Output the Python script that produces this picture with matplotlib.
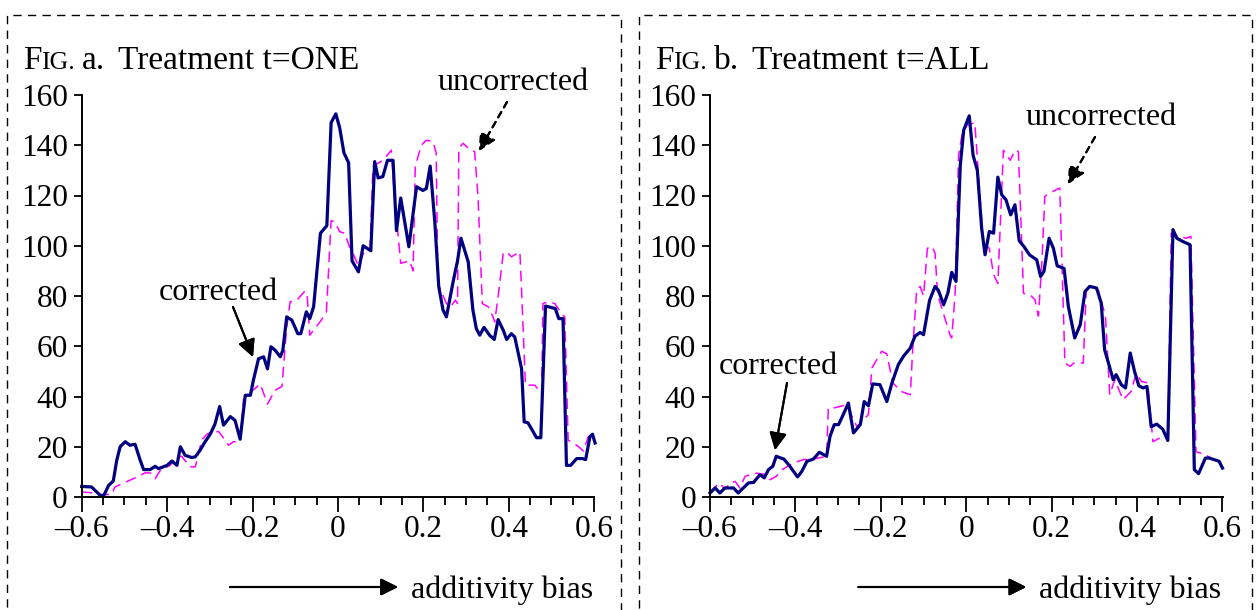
import numpy as np
import matplotlib
matplotlib.use('Agg')
import matplotlib.pyplot as plt
from matplotlib.patches import Rectangle

plt.rcParams.update({
    'font.family': ['Liberation Serif', 'DejaVu Serif'],
    'font.size': 22.5,
    'axes.linewidth': 1.4,
})

W, H = 1256, 610

# ---- data ----
# Fig. a, treatment t=ONE
a_corr_x = [-0.600, -0.577, -0.557, -0.549, -0.537, -0.526, -0.518, -0.510, -0.498, -0.487,
            -0.475, -0.463, -0.455, -0.440, -0.428, -0.420, -0.400, -0.389, -0.377, -0.369,
            -0.358, -0.342, -0.334, -0.323, -0.311, -0.299, -0.288, -0.277, -0.268, -0.252,
            -0.241, -0.229, -0.217, -0.205, -0.198, -0.186, -0.174, -0.165, -0.157, -0.147,
            -0.135, -0.129, -0.120, -0.108, -0.094, -0.087, -0.074, -0.066, -0.057, -0.041,
            -0.026, -0.016, -0.005, 0.004, 0.014, 0.025, 0.033, 0.048, 0.059, 0.077,
            0.086, 0.094, 0.105, 0.116, 0.129, 0.137, 0.147, 0.166, 0.184, 0.199,
            0.207, 0.216, 0.227, 0.236, 0.246, 0.254, 0.270, 0.280, 0.288, 0.305,
            0.316, 0.324, 0.332, 0.342, 0.355, 0.366, 0.375, 0.387, 0.395, 0.406,
            0.414, 0.430, 0.436, 0.445, 0.455, 0.465, 0.475, 0.486, 0.500, 0.509,
            0.517, 0.527, 0.535, 0.545, 0.559, 0.572, 0.580, 0.590, 0.596, 0.602]
a_corr_y = [4.2, 4, 0.7, 0.3, 4.6, 6.4, 14.6, 20, 22, 20.6,
            21, 14.6, 10.9, 10.9, 12.2, 11.3, 12.6, 14.3, 12.6, 20,
            16.6, 15.7, 16, 18.6, 22, 25, 29, 36, 28.6, 32,
            30.5, 23, 40.5, 40.5, 46.5, 55, 55.8, 51, 59.8, 58.4,
            55.8, 58.4, 71.7, 70.4, 65, 65, 73.7, 71, 75.7, 105,
            108, 149, 152.5, 147, 137, 133, 94, 89.6, 100, 98,
            133.5, 127, 127.5, 134, 134, 106, 119, 99.6, 123.5, 122,
            122.8, 131.7, 109, 83.7, 74.4, 71.7, 86, 94, 103, 93.6,
            74.4, 67, 64.4, 67.5, 64.4, 62.7, 70.6, 66.4, 62.7, 65,
            63.7, 51, 29.9, 29.5, 26.6, 23.6, 23.6, 76, 75.4, 75,
            71, 71, 12.6, 12.6, 15.3, 15.3, 14.9, 24, 25, 21.5]

a_unc_x = [-0.600, -0.577, -0.561, -0.530, -0.522, -0.470, -0.452, -0.440, -0.428, -0.416,
           -0.393, -0.377, -0.366, -0.346, -0.334, -0.319, -0.307, -0.295, -0.279, -0.256,
           -0.245, -0.229, -0.221, -0.209, -0.182, -0.165, -0.147, -0.131, -0.121, -0.112,
           -0.096, -0.077, -0.072, -0.066, -0.039, -0.027, -0.016, -0.008, 0.004, 0.016,
           0.027, 0.035, 0.048, 0.060, 0.075, 0.082, 0.105, 0.125, 0.133, 0.142,
           0.147, 0.168, 0.176, 0.181, 0.195, 0.207, 0.223, 0.230, 0.234, 0.254,
           0.264, 0.275, 0.280, 0.283, 0.293, 0.305, 0.320, 0.328, 0.338, 0.352,
           0.363, 0.367, 0.375, 0.387, 0.395, 0.406, 0.426, 0.430, 0.439, 0.461,
           0.477, 0.480, 0.492, 0.508, 0.523, 0.531, 0.539, 0.559, 0.575, 0.586,
           0.596, 0.602]
a_unc_y = [2, 1.7, 1, 1, 4, 8, 9.6, 9.6, 7.3, 10.6,
           12.6, 16, 16.2, 12, 12, 22.6, 25, 26, 26, 20.6,
           22, 22, 39, 41, 45, 37, 42.5, 44, 66, 77.7,
           78.4, 82, 80, 64.4, 70.4, 73.7, 110, 109.6, 105.6, 105,
           99.6, 97, 92, 97, 98, 131.5, 134, 138, 118, 102,
           93, 94, 90, 131.5, 140, 142, 141.4, 136.8, 85, 77,
           75.7, 78.4, 77, 138.8, 140.8, 138.8, 137.5, 119.5, 77, 75.7,
           71.7, 69.7, 79.7, 97, 97.6, 95.6, 97.6, 82, 44.5, 44.5,
           41, 77, 77.7, 77, 73, 71.7, 22.6, 20.6, 18.3, 24,
           24.6, 22]

# Fig. b, treatment t=ALL
b_corr_x = [-0.600, -0.588, -0.577, -0.565, -0.545, -0.534, -0.522, -0.510, -0.498, -0.483,
            -0.473, -0.463, -0.453, -0.445, -0.434, -0.427, -0.413, -0.395, -0.385, -0.373,
            -0.358, -0.344, -0.327, -0.319, -0.309, -0.299, -0.288, -0.276, -0.264, -0.248,
            -0.239, -0.229, -0.219, -0.202, -0.186, -0.174, -0.159, -0.147, -0.131, -0.120,
            -0.108, -0.100, -0.086, -0.073, -0.065, -0.053, -0.043, -0.034, -0.024, -0.014,
            -0.006, 0.007, 0.016, 0.026, 0.036, 0.044, 0.054, 0.064, 0.074, 0.083,
            0.093, 0.104, 0.114, 0.124, 0.135, 0.148, 0.165, 0.174, 0.182, 0.194,
            0.204, 0.213, 0.229, 0.239, 0.254, 0.267, 0.278, 0.289, 0.305, 0.316,
            0.324, 0.334, 0.344, 0.351, 0.363, 0.373, 0.384, 0.394, 0.404, 0.414,
            0.423, 0.433, 0.446, 0.460, 0.472, 0.484, 0.493, 0.507, 0.524, 0.534,
            0.544, 0.560, 0.569, 0.580, 0.592, 0.600]
b_corr_y = [1.6, 3.6, 1.6, 3.6, 3.6, 1.6, 3.6, 5.6, 5.8, 8.9,
            7.6, 10.9, 12.2, 16.2, 15.5, 15.1, 12.2, 8, 10.2, 14.2,
            15.1, 17.8, 16.2, 24.1, 28.8, 28.8, 32.8, 37.4, 25.5, 28.8,
            38, 36.3, 45, 44.7, 38, 45.4, 52.7, 56, 59.3, 64,
            65.5, 64.6, 78.2, 83.8, 82.2, 76.5, 81.2, 89.4, 85.8, 132,
            146, 151.7, 136, 130, 107, 96.4, 105.7, 105, 127.3, 120.3,
            118.3, 112.3, 116.3, 102, 99.7, 96.4, 94.4, 87.8, 89.8, 103,
            99, 92, 91, 75.9, 63.3, 68.6, 81.8, 83.8, 83.2, 77.2,
            58.6, 52.7, 46.7, 48.7, 44.7, 43.4, 57.3, 50, 44.3, 43.4,
            44, 28, 29, 27, 22.5, 106.4, 103, 101.7, 100.4, 10.9,
            9.3, 15.5, 15.5, 14.9, 14.2, 11.5]

b_unc_x = [-0.600, -0.588, -0.577, -0.565, -0.553, -0.541, -0.530, -0.518, -0.506, -0.491,
           -0.467, -0.459, -0.445, -0.430, -0.405, -0.381, -0.360, -0.327, -0.323, -0.311,
           -0.280, -0.256, -0.229, -0.221, -0.198, -0.186, -0.172, -0.152, -0.131, -0.125,
           -0.116, -0.108, -0.100, -0.091, -0.080, -0.073, -0.067, -0.037, -0.034, -0.026,
           -0.018, -0.010, 0.002, 0.020, 0.040, 0.054, 0.064, 0.074, 0.087, 0.103,
           0.114, 0.122, 0.126, 0.134, 0.149, 0.161, 0.169, 0.177, 0.184, 0.196,
           0.207, 0.219, 0.231, 0.243, 0.252, 0.274, 0.281, 0.293, 0.309, 0.326,
           0.336, 0.348, 0.367, 0.386, 0.398, 0.410, 0.425, 0.437, 0.453, 0.472,
           0.480, 0.499, 0.515, 0.526, 0.538, 0.561, 0.577, 0.592, 0.600]
b_unc_y = [1.6, 4, 5.6, 3, 5.6, 6.2, 3.6, 8.2, 8.9, 9.5,
           8.9, 6.9, 8.2, 11, 13.5, 14.9, 15, 16.2, 35.4, 35.4,
           36.7, 28, 32.8, 51.3, 58, 57, 45.4, 42, 40.7, 60,
           82.5, 83.8, 80, 99, 99.7, 97, 80.5, 64, 63.3, 81,
           136, 144, 148, 149, 101, 99, 88.5, 85, 138, 134,
           138, 137.5, 119.6, 81, 80.5, 78.5, 72, 93, 119.6, 121,
           122, 123, 53.3, 52, 53.3, 53.3, 82.5, 83.8, 82.5, 72,
           40.7, 46.7, 38.7, 42, 49.3, 46, 45.4, 22, 23.5, 24,
           105, 103.7, 103, 103.7, 18, 16.8, 14.9, 14.2, 11.5]

x_ticks = [-0.6, -0.4, -0.2, 0, 0.2, 0.4, 0.6]
x_ticklabels = ['\u20130.6', '\u20130.4', '\u20130.2', '0', '0.2', '0.4', '0.6']
y_ticks = [0, 20, 40, 60, 80, 100, 120, 140, 160]

NAVY = '#000080'
MAGENTA = '#FF00FF'
LABEL_SIZE = 23


def px(x, y):
    # image pixel (top-left origin) -> figure fraction
    return (x / W, 1 - y / H)


fig = plt.figure(figsize=(W / 100, H / 100), dpi=100)

# dashed frames round the two panels
for x0, x1 in [(7, 621), (639, 1252)]:
    fig.add_artist(Rectangle(px(x0, 640), (x1 - x0) / W, (640 - 15) / H,
                             transform=fig.transFigure, fill=False, edgecolor='black',
                             linewidth=1.0, linestyle=(0, (6, 4.5)), clip_on=False))

panels = [
    dict(left=81.7, corr=(a_corr_x, a_corr_y), unc=(a_unc_x, a_unc_y)),
    dict(left=710.0, corr=(b_corr_x, b_corr_y), unc=(b_unc_x, b_unc_y)),
]

for p in panels:
    x0 = p['left']
    ax = fig.add_axes([x0 / W, 1 - 497 / H, 512.5 / W, (497 - 95) / H])
    ax.plot(*p['unc'], color=MAGENTA, linewidth=1.1, linestyle=(0, (7, 4)), clip_on=False)
    ax.plot(*p['corr'], color=NAVY, linewidth=2.3, clip_on=False)
    ax.set_xlim(-0.6, 0.6)
    ax.set_ylim(0, 160)
    for s in ['top', 'right']:
        ax.spines[s].set_visible(False)
    ax.set_xticks(x_ticks)
    ax.set_xticklabels(x_ticklabels)
    ax.set_xticks(np.arange(-0.6, 0.601, 0.05), minor=True)
    ax.set_yticks(y_ticks)
    ax.tick_params(axis='x', which='major', direction='out', length=11, width=1.3, pad=2)
    ax.tick_params(axis='x', which='minor', direction='out', length=5.5, width=1.3)
    ax.tick_params(axis='y', which='major', direction='out', length=6, width=1.3, pad=4)
    ax.patch.set_alpha(0)

fig.canvas.draw()
renderer = fig.canvas.get_renderer()


def small_caps_title(x, y, letter, treat):
    # "FIG." in small caps, then the rest; (text, size, gap before in px)
    parts = [('F', 24, 0), ('IG.', 18.5, 0), ('a.', 24, 7), ('Treatment t=%s' % treat, 24, 12)]
    xp = x
    for s, size, gap in parts:
        t = fig.text((xp + gap) / W, 1 - y / H, s if s != 'a.' else letter + '.',
                     fontsize=size, va='baseline', ha='left')
        xp = t.get_window_extent(renderer).x1


small_caps_title(23, 69, 'a', 'ONE')
small_caps_title(655, 69, 'b', 'ALL')

head = dict(arrowstyle='-|>', color='black', lw=1.5, mutation_scale=26,
            shrinkA=0, shrinkB=0)

# panel a labels
fig.text(*px(218, 292), 'corrected', ha='center', va='center', fontsize=LABEL_SIZE)
fig.text(*px(513, 83), 'uncorrected', ha='center', va='center', fontsize=LABEL_SIZE)
fig.add_artist(plt.annotate('', xy=px(253, 357), xytext=px(233, 307),
                            xycoords='figure fraction', textcoords='figure fraction',
                            arrowprops=head))
fig.add_artist(plt.annotate('', xy=px(479, 151), xytext=px(507, 102),
                            xycoords='figure fraction', textcoords='figure fraction',
                            arrowprops=dict(head, linestyle=(0, (3, 2.5)))))

# panel b labels
fig.text(*px(778, 367), 'corrected', ha='center', va='center', fontsize=LABEL_SIZE)
fig.text(*px(1101, 117), 'uncorrected', ha='center', va='center', fontsize=LABEL_SIZE)
fig.add_artist(plt.annotate('', xy=px(775, 450), xytext=px(787, 383),
                            xycoords='figure fraction', textcoords='figure fraction',
                            arrowprops=head))
fig.add_artist(plt.annotate('', xy=px(1068, 184), xytext=px(1095, 137),
                            xycoords='figure fraction', textcoords='figure fraction',
                            arrowprops=dict(head, linestyle=(0, (3, 2.5)))))

# axis captions with arrows
for off in [0, 628.3]:
    fig.add_artist(plt.annotate('', xy=px(398 + off, 587), xytext=px(230 + off, 587),
                                xycoords='figure fraction', textcoords='figure fraction',
                                arrowprops=dict(head, lw=1.5)))
    fig.text(*px(411 + off, 598), 'additivity bias', ha='left', va='baseline',
             fontsize=LABEL_SIZE)

fig.savefig('out.png', dpi=100, facecolor='white')
